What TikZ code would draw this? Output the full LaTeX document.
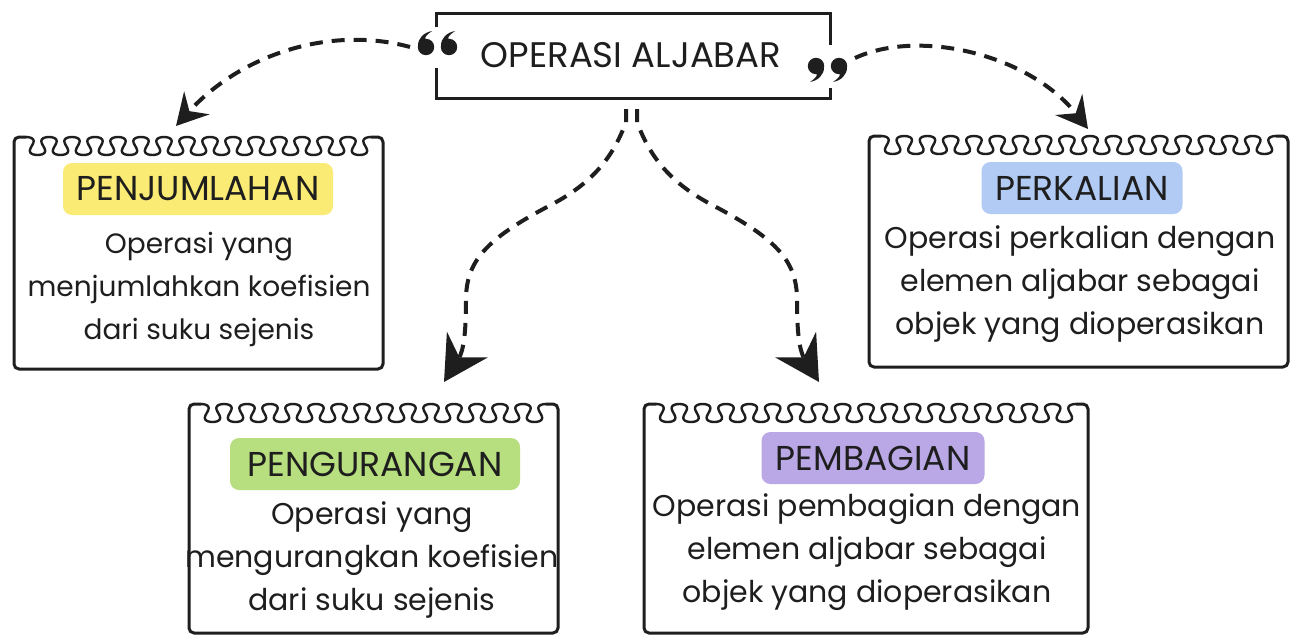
\documentclass[tikz,border=0pt]{standalone}
\usepackage{fontspec}
\setmainfont{Poppins}
\usetikzlibrary{arrows.meta,calc}
\definecolor{ink}{HTML}{1E1E1E}
\definecolor{cyel}{HTML}{FAEB74}
\definecolor{cgrn}{HTML}{B7DE7F}
\definecolor{cpur}{HTML}{B9A7E6}
\definecolor{cblu}{HTML}{B1CBF4}
\tikzset{
 padline/.style={line width=3pt, draw=ink, rounded corners=5pt, line cap=round, line join=round},
 ring/.style={line width=2.4pt, draw=ink, line join=round},
 frame/.style={line width=3pt, draw=ink},
 lab/.style={rounded corners=9pt, minimum height=52pt, inner sep=0pt, text=ink, font=\fontsize{34.5}{40}\selectfont},
 body/.style={align=center, text=ink, font=\fontsize{30}{43}\selectfont, inner sep=0pt},
 conn/.style={line width=4pt, draw=ink, dash pattern=on 13pt off 9pt},
 bigtip/.style={-{Stealth[length=44pt,width=48pt,inset=15pt]}},
 smalltip/.style={-{Stealth[length=31pt,width=34pt,inset=11pt]}},
 qmark/.pic={
   \fill[ink] (0,0) circle (8.2);
   \fill[ink] (-8,-1) .. controls (-8.2,-9) and (-2,-14.5) .. (6,-16)
     .. controls (1,-12.5) and (-1.5,-10) .. (-0.5,-8.2) -- cycle;
 },
}
% x1, x2, ytop, ybot, periods, name
\newcommand\mynotepad[6]{%
 \node[inner sep=0pt, minimum width={#2-#1}, minimum height={#4-#3}] (#6) at ({(#1+#2)/2},{(#3+#4)/2}) {};
 \draw[padline] (#1+12,#3) -- (#1,#3) -- (#1,#4) -- (#2,#4) -- (#2,#3) -- (#2-12,#3);
 \pgfmathsetmacro\pp{(#2-#1-24)/#5}%
 \pgfmathsetmacro\dm{#5*360}%
 \pgfmathtruncatemacro\ns{#5*32+1}%
 \draw[ring] plot[domain=0:\dm, samples=\ns, variable=\t, smooth]
   ({#1+12+(\t/360)*\pp+4.4*sin(2*\t)},{#3+9-9*cos(\t)});
}
\begin{document}
\begin{tikzpicture}[x=1pt,y=-1pt]
\fill[white] (0,0) rectangle (1298,635);
\useasboundingbox (0,0) rectangle (1298,635);

% title
\node[inner sep=0pt, text=ink, font=\fontsize{35.5}{40}\selectfont] (title) at (631,55) {OPERASI ALJABAR};
\draw[frame] (436,27) -- (436,13) -- (830,13) -- (830,45);
\draw[frame] (436,68) -- (436,98) -- (830,98) -- (830,88);
\pic at (426,47) {qmark};
\pic at (449,47) {qmark};
\pic[rotate=180] at (816,66) {qmark};
\pic[rotate=180] at (839,66) {qmark};
\coordinate (qL) at (410,47);
\coordinate (qR) at (855,58);

% notepads
\mynotepad{14}{383}{137}{369}{15}{padA}
\mynotepad{869}{1288}{136}{367}{17}{padD}
\mynotepad{189}{558}{404}{633}{15}{padB}
\mynotepad{644}{1088}{404}{633}{18}{padC}

% labels
\node[lab, fill=cyel, minimum width=270pt] (labA) at (198,189) {PENJUMLAHAN};
\node[body, font=\fontsize{28}{43}\selectfont] (txtA) at (199,289) {Operasi yang\\menjumlahkan koefisien\\dari suku sejenis};

\node[lab, fill=cblu, minimum width=201pt] (labD) at (1082,188) {PERKALIAN};
\node[body] (txtD) at (1080,284) {Operasi perkalian dengan\\elemen aljabar sebagai\\objek yang dioperasikan};

\node[lab, fill=cgrn, minimum width=290pt] (labB) at (375,464) {PENGURANGAN};
\node[body] (txtB) at (372,560) {Operasi yang\\mengurangkan koefisien\\dari suku sejenis};

\node[lab, fill=cpur, minimum width=223pt] (labC) at (873,458) {PEMBAGIAN};
\node[body] (txtC) at (867,552) {Operasi pembagian dengan\\elemen aljabar sebagai\\objek yang dioperasikan};

% connectors
\coordinate (tipA) at (176,126);
\coordinate (tipD) at (1088,129);
\coordinate (tipB) at (444,382);
\coordinate (tipC) at (819,382);
\coordinate (sL) at (626,109);
\coordinate (sR) at (637,109);

\draw[conn, smalltip] (qL) .. controls (330,25) and (240,55) .. (tipA);
\draw[conn, smalltip] (qR) .. controls (920,28) and (1030,55) .. (tipD);
\draw[conn, bigtip] (sL) -- (626,122) .. controls (612,160) and (590,185) .. (547,207)
  .. controls (485,240) and (466,262) .. (466,300) .. controls (466,330) and (464,350) .. (tipB);
\draw[conn, bigtip] (sR) -- (637,122) .. controls (651,160) and (673,185) .. (716,207)
  .. controls (778,240) and (797,262) .. (797,300) .. controls (797,330) and (799,350) .. (tipC);
\end{tikzpicture}
\end{document}
